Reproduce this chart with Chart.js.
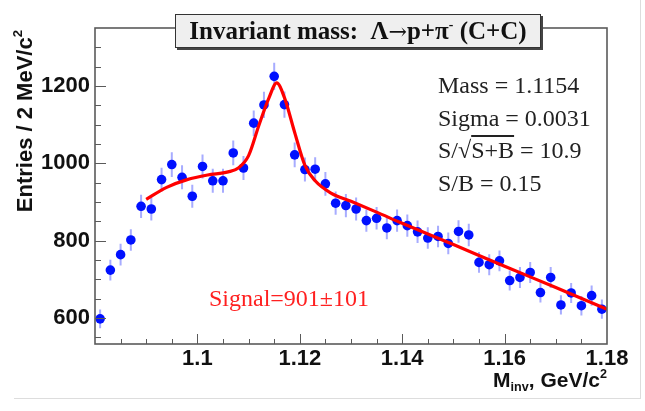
<!DOCTYPE html>
<html>
<head>
<meta charset="utf-8">
<script src="https://cdn.jsdelivr.net/npm/chart.js@4.4.0/dist/chart.umd.min.js"></script>
<style>
  body { margin: 0; background: #fff; }
  #wrap { position: relative; width: 645px; height: 411px; overflow: hidden; }
  canvas { position: absolute; left: 0; top: 0; }
  .edgeV { position: absolute; left: 640px; top: 0; width: 1px; height: 398px; background: #ddd; }
  .edgeH { position: absolute; left: 14px; top: 398px; width: 627px; height: 1px; background: #ddd; }
  .title {
    position: absolute; left: 175px; top: 14px; width: 364px; height: 32px;
    background: #efefef; border: 1px solid #333; box-shadow: 2px 2px 0 #444;
    font: bold 25px "Liberation Serif", "Times New Roman", serif; color: #111;
    text-align: center; line-height: 32px; white-space: nowrap;
  }
  .title sup { font-size: 55%; line-height: 0; vertical-align: 0.7em; }
  .arrow { font-family: "DejaVu Serif", serif; font-weight: normal; font-size: 22px; }
  .stats {
    position: absolute; left: 438px; top: 69px;
    font: 24px "Liberation Serif", "Times New Roman", serif; color: #222;
    line-height: 32.7px; white-space: nowrap;
  }
  .ov { text-decoration: overline; }
  .signal {
    position: absolute; left: 209px; top: 284px;
    font: 24px "Liberation Serif", "Times New Roman", serif; color: #ff2020;
    line-height: 28px; white-space: nowrap;
  }
  .ytitle {
    position: absolute; left: -75px; top: 117px; width: 200px; height: 26px;
    font: bold 22px "Liberation Sans", Arial, sans-serif; color: #111;
    line-height: 26px; text-align: right; white-space: nowrap;
    transform: rotate(-90deg);
  }
  .xtitle {
    position: absolute; left: 407px; top: 367px; width: 200px; height: 26px;
    font: bold 21px "Liberation Sans", Arial, sans-serif; color: #111;
    line-height: 26px; text-align: right; white-space: nowrap;
  }
  .ytitle sup, .xtitle sup { font-size: 60%; line-height: 0; vertical-align: 0.75em; }
  .xtitle sub { font-size: 60%; line-height: 0; vertical-align: -0.3em; }
</style>
</head>
<body>
<div id="wrap">
  <canvas id="c" width="645" height="411"></canvas>
  <div class="edgeV"></div>
  <div class="edgeH"></div>
  <div class="title">Invariant mass:&nbsp; Λ<span class="arrow">→</span>p+π<sup>-</sup> (C+C)</div>
  <div class="stats">
    Mass = 1.1154<br>
    Sigma = 0.0031<br>
    S/√<span class="ov">S+B</span> = 10.9<br>
    S/B = 0.15
  </div>
  <div class="signal">Signal=901±101</div>
  <div class="ytitle">Entries / 2 MeV/c<sup>2</sup></div>
  <div class="xtitle">M<sub>inv</sub>, GeV/c<sup>2</sup></div>
</div>
<script>
// bin centres, 2 MeV bins
const massBins = [
  1.081, 1.083, 1.085, 1.087, 1.089, 1.091, 1.093, 1.095, 1.097, 1.099,
  1.101, 1.103, 1.105, 1.107, 1.109, 1.111, 1.113, 1.115, 1.117, 1.119,
  1.121, 1.123, 1.125, 1.127, 1.129, 1.131, 1.133, 1.135, 1.137, 1.139,
  1.141, 1.143, 1.145, 1.147, 1.149, 1.151, 1.153, 1.155, 1.157, 1.159,
  1.161, 1.163, 1.165, 1.167, 1.169, 1.171, 1.173, 1.175, 1.177, 1.179
];
const entries = [
  598, 724, 764, 802, 889, 882, 958, 997, 964, 915,
  992, 955, 955, 1027, 988, 1104, 1151, 1225, 1152, 1022,
  984, 985, 947, 897, 891, 882, 852, 858, 833, 852,
  839, 823, 807, 811, 793, 824, 815, 744, 738, 748,
  697, 705, 718, 666, 705, 634, 665, 632, 658, 623
];
const errors = [
  24, 27, 28, 28, 30, 30, 31, 32, 31, 30,
  31, 31, 31, 32, 31, 33, 34, 35, 34, 32,
  31, 31, 31, 30, 30, 30, 29, 29, 29, 29,
  29, 29, 28, 28, 28, 29, 29, 27, 27, 27,
  26, 27, 27, 26, 27, 25, 26, 25, 26, 25
];

// fit curve (signal + background)
const fitMass = [1.090, 1.094, 1.098, 1.102, 1.106, 1.108, 1.110, 1.112, 1.114, 1.1155,
                 1.117, 1.119, 1.121, 1.123, 1.126, 1.130, 1.135, 1.140, 1.150, 1.160, 1.170, 1.180];
const fitEntries = [907, 938, 958, 970, 978, 988, 1020, 1098, 1170, 1208,
                    1170, 1080, 995, 955, 924, 902, 874, 845, 790, 734, 679, 623];

const xTicks = [1.1, 1.12, 1.14, 1.16, 1.18];
const xTickLabels = ['1.1', '1.12', '1.14', '1.16', '1.18'];
const yTicks = [600, 800, 1000, 1200];
const yTickLabels = ['600', '800', '1000', '1200'];

const X_MIN = 1.08, X_MAX = 1.18, Y_MIN = 533, Y_MAX = 1350;
const frameColor = '#5a5a5a';
const tickFont = { family: '"Liberation Sans", Arial, sans-serif', weight: 'bold', size: 22 };

const errorSegments = [];
massBins.forEach((m, i) => {
  errorSegments.push({ x: m, y: entries[i] - errors[i] });
  errorSegments.push({ x: m, y: entries[i] + errors[i] });
  errorSegments.push({ x: m, y: null });
});

// ROOT-style frame with inward major/minor ticks
const framePlugin = {
  id: 'frame',
  afterDraw(chart) {
    const { ctx, chartArea: a, scales: { x, y } } = chart;
    ctx.save();
    ctx.strokeStyle = frameColor;
    ctx.lineWidth = 1;
    ctx.beginPath();
    for (let v = 1.085; v < X_MAX - 1e-9; v += 0.005) {
      const px = Math.round(x.getPixelForValue(v)) + 0.5;
      const major = xTicks.some(t => Math.abs(t - v) < 1e-6);
      ctx.moveTo(px, a.bottom);
      ctx.lineTo(px, a.bottom - (major ? 10 : 5));
    }
    for (let v = 550; v < Y_MAX; v += 50) {
      const py = Math.round(y.getPixelForValue(v)) + 0.5;
      const major = yTicks.includes(v);
      ctx.moveTo(a.left, py);
      ctx.lineTo(a.left + (major ? 11 : 6), py);
    }
    ctx.stroke();
    ctx.lineWidth = 1.6;
    ctx.strokeRect(a.left, a.top, a.right - a.left, a.bottom - a.top);
    ctx.restore();
  }
};

new Chart(document.getElementById('c'), {
  data: {
    datasets: [
      {
        type: 'line',
        data: fitMass.map((m, i) => ({ x: m, y: fitEntries[i] })),
        borderColor: '#ff0000',
        borderWidth: 3.2,
        pointRadius: 0,
        cubicInterpolationMode: 'monotone',
        fill: false,
        order: 1,
      },
      {
        type: 'scatter',
        data: massBins.map((m, i) => ({ x: m, y: entries[i] })),
        pointRadius: 4.8,
        backgroundColor: '#0010ff',
        borderWidth: 0,
        order: 2,
      },
      {
        type: 'line',
        data: errorSegments,
        borderColor: 'rgba(80,90,255,0.5)',
        borderWidth: 2,
        pointRadius: 0,
        spanGaps: false,
        fill: false,
        order: 3,
      },
    ],
  },
  options: {
    responsive: false,
    animation: false,
    events: [],
    layout: { padding: { left: 0, top: 28, right: 38, bottom: 0 } },
    plugins: { legend: { display: false }, tooltip: { enabled: false }, title: { display: false } },
    scales: {
      x: {
        type: 'linear',
        min: X_MIN,
        max: X_MAX,
        afterBuildTicks: s => { s.ticks = xTicks.map(v => ({ value: v })); },
        afterFit: s => { s.height = 67; },
        ticks: {
          callback: (v, i) => xTickLabels[i],
          font: tickFont,
          color: '#111',
          padding: 2,
          maxRotation: 0,
          autoSkip: false,
        },
        grid: { display: false, drawTicks: false },
        border: { display: false },
      },
      y: {
        type: 'linear',
        min: Y_MIN,
        max: Y_MAX,
        afterBuildTicks: s => { s.ticks = yTicks.map(v => ({ value: v })); },
        afterFit: s => { s.width = 95; },
        ticks: {
          callback: (v, i) => yTickLabels[i],
          font: tickFont,
          color: '#111',
          padding: 5,
          autoSkip: false,
        },
        grid: { display: false, drawTicks: false },
        border: { display: false },
      },
    },
  },
  plugins: [framePlugin],
});
</script>
</body>
</html>
